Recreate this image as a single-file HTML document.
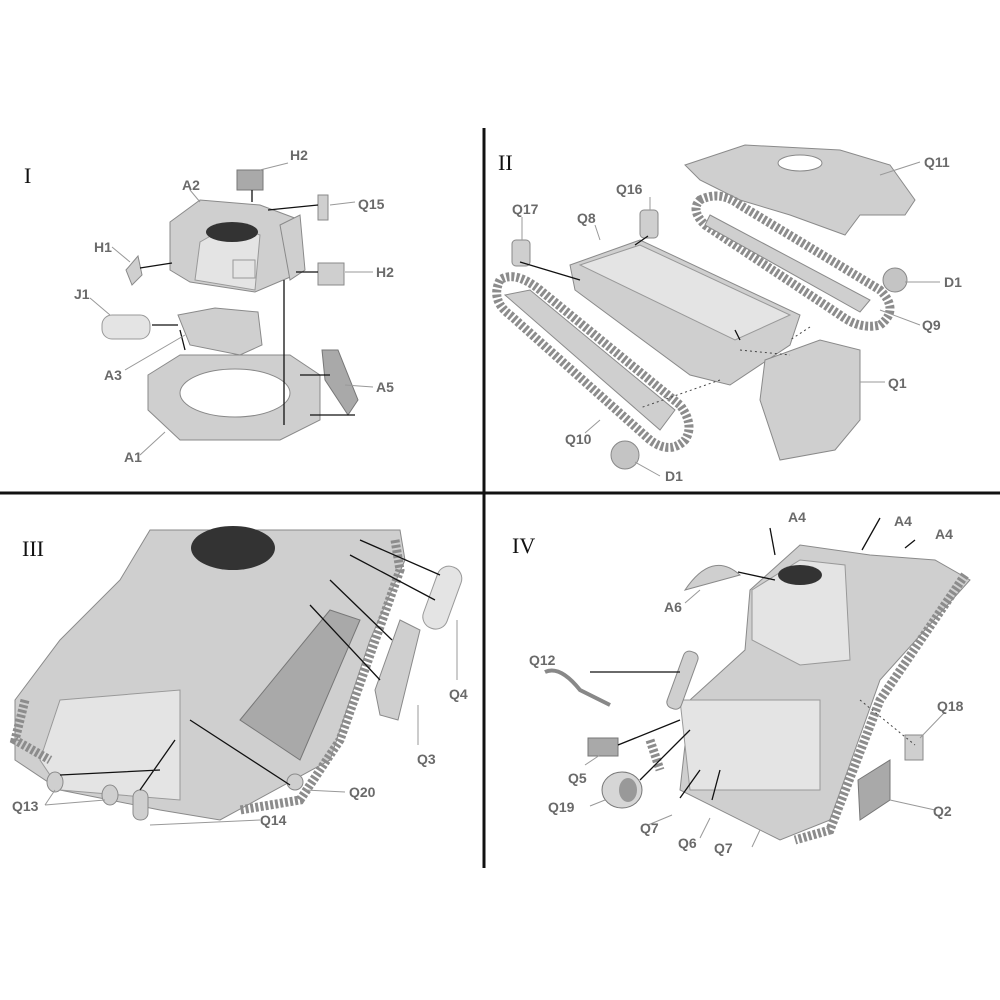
<!DOCTYPE html>
<html><head><meta charset="utf-8"><style>
html,body{margin:0;padding:0;background:#fff}
svg{display:block}
.l{font-family:"Liberation Sans",sans-serif;font-weight:bold;font-size:14px;fill:#6a6a6a}
.r{font-family:"Liberation Serif",serif;font-size:22px;fill:#111}
.p{fill:#cfcfcf;stroke:#8a8a8a;stroke-width:1}
.d{fill:#a9a9a9;stroke:#777;stroke-width:1}
.w{fill:#e4e4e4;stroke:#999;stroke-width:1}
.k{stroke:#111;stroke-width:1.3;fill:none}
.g{stroke:#999;stroke-width:1;fill:none}
.t{fill:none;stroke:#8c8c8c;stroke-width:9;stroke-dasharray:3 2}
</style></head><body>
<svg width="1000" height="1000" viewBox="0 0 1000 1000" xmlns="http://www.w3.org/2000/svg">
<rect width="1000" height="1000" fill="#fff"/>
<line x1="0" y1="493" x2="1000" y2="493" stroke="#111" stroke-width="3"/>
<line x1="484" y1="128" x2="484" y2="868" stroke="#111" stroke-width="3"/>
<text class="r" x="24" y="183">I</text>
<text class="r" x="498" y="170">II</text>
<text class="r" x="22" y="556">III</text>
<text class="r" x="512" y="553">IV</text>

<!-- Panel I -->
<rect class="d" x="237" y="170" width="26" height="20"/>
<polygon class="p" points="170,222 200,200 260,205 300,220 295,275 255,292 190,282 170,270"/>
<polygon class="w" points="200,242 230,225 260,235 255,290 195,280"/>
<ellipse cx="232" cy="232" rx="26" ry="10" fill="#333"/>
<rect class="w" x="233" y="260" width="22" height="18"/>
<polygon class="p" points="280,225 300,215 305,270 290,280"/>
<rect class="p" x="318" y="195" width="10" height="25"/>
<rect class="p" x="318" y="263" width="26" height="22"/>
<polygon class="p" points="126,270 138,256 142,275 132,285"/>
<rect class="w" x="102" y="315" width="48" height="24" rx="10"/>
<polygon class="p" points="178,315 215,308 258,312 262,345 240,355 190,345"/>
<polygon class="p" points="148,375 180,355 290,355 320,375 320,420 280,440 180,440 148,410"/>
<ellipse cx="235" cy="393" rx="55" ry="24" fill="#fff" stroke="#888"/>
<polygon class="d" points="322,350 338,350 358,400 348,415 325,380"/>
<path class="k" d="M252 190 L252 202 M268 210 L318 205 M140 268 L172 263 M152 325 L178 325 M180 330 L185 350 M296 272 L318 272 M284 280 L284 425 M300 375 L330 375 M310 415 L355 415"/>
<path class="g" d="M288 163 L260 170 M355 202 L330 205 M373 272 L345 272 M190 190 L200 202 M112 247 L130 262 M90 298 L110 315 M125 370 L185 335 M373 387 L345 385 M140 455 L165 432"/>
<text class="l" x="290" y="160">H2</text>
<text class="l" x="182" y="190">A2</text>
<text class="l" x="358" y="209">Q15</text>
<text class="l" x="94" y="252">H1</text>
<text class="l" x="376" y="277">H2</text>
<text class="l" x="74" y="299">J1</text>
<text class="l" x="104" y="380">A3</text>
<text class="l" x="376" y="392">A5</text>
<text class="l" x="124" y="462">A1</text>

<!-- Panel II -->
<polygon class="p" points="685,165 745,145 840,150 890,165 915,200 905,215 860,215 845,235 790,215 740,200 700,180"/>
<ellipse cx="800" cy="163" rx="22" ry="8" fill="#fff" stroke="#888"/>
<path class="t" d="M700 200 Q720 190 740 205 L880 290 Q900 310 880 325 Q860 330 840 315 L705 225 Q690 210 700 200Z"/>
<polygon class="p" points="710,215 870,300 860,312 705,225"/>
<polygon class="p" points="570,265 640,240 800,315 790,345 730,385 690,375 575,290"/>
<polygon class="w" points="580,265 640,245 790,315 735,340"/>
<path class="t" d="M500 280 Q490 300 510 315 L650 440 Q670 455 685 440 Q695 425 680 405 L540 290 Q515 270 500 280Z"/>
<polygon class="p" points="505,295 530,290 675,410 660,430"/>
<rect class="p" x="512" y="240" width="18" height="26" rx="4"/>
<rect class="p" x="640" y="210" width="18" height="28" rx="4"/>
<polygon class="p" points="765,360 820,340 860,350 860,420 835,450 780,460 760,400"/>
<ellipse cx="895" cy="280" rx="12" ry="12" fill="#c4c4c4" stroke="#888"/>
<ellipse cx="625" cy="455" rx="14" ry="14" fill="#c4c4c4" stroke="#888"/>
<path class="k" d="M520 262 L580 280 M648 236 L635 245 M735 330 L740 340"/>
<path class="g" d="M522 217 L522 240 M650 197 L650 210 M595 225 L600 240 M920 162 L880 175 M940 282 L905 282 M920 325 L880 310 M885 382 L860 382 M585 433 L600 420 M660 476 L635 462" />
<path d="M720 380 L640 408 M810 327 L790 340 M740 350 L790 355" stroke="#444" stroke-dasharray="2 3" fill="none"/>
<text class="l" x="512" y="214">Q17</text>
<text class="l" x="616" y="194">Q16</text>
<text class="l" x="577" y="223">Q8</text>
<text class="l" x="924" y="167">Q11</text>
<text class="l" x="944" y="287">D1</text>
<text class="l" x="922" y="330">Q9</text>
<text class="l" x="888" y="388">Q1</text>
<text class="l" x="565" y="444">Q10</text>
<text class="l" x="665" y="481">D1</text>

<!-- Panel III -->
<polygon class="p" points="150,530 400,530 405,560 370,640 330,760 220,820 160,810 60,790 15,760 15,700 60,640 120,580"/>
<ellipse cx="233" cy="548" rx="42" ry="22" fill="#333"/>
<polygon class="w" points="60,700 180,690 180,800 60,790 40,760"/>
<path class="t" d="M395 540 L400 570 L340 740 L300 800 L240 810 M25 700 L15 740 L50 760"/>
<polygon class="d" points="240,720 330,610 360,620 300,760"/>
<rect class="w" x="430" y="565" width="25" height="65" rx="12" transform="rotate(20 442 597)"/>
<polygon class="p" points="375,690 400,620 420,630 398,720 380,715"/>
<ellipse cx="55" cy="782" rx="8" ry="10" class="p"/>
<ellipse cx="110" cy="795" rx="8" ry="10" class="p"/>
<rect class="p" x="133" y="790" width="15" height="30" rx="7"/>
<ellipse cx="295" cy="782" rx="8" ry="8" class="p"/>
<path class="k" d="M360 540 L440 575 M350 555 L435 600 M330 580 L392 640 M310 605 L380 680 M190 720 L290 785 M175 740 L140 790 M160 770 L60 775"/>
<path class="g" d="M457 620 L457 680 M418 705 L418 745 M345 792 L305 790 M260 820 L150 825 M45 805 L55 790 M45 805 L105 800"/>
<text class="l" x="449" y="699">Q4</text>
<text class="l" x="417" y="764">Q3</text>
<text class="l" x="349" y="797">Q20</text>
<text class="l" x="12" y="811">Q13</text>
<text class="l" x="260" y="825">Q14</text>

<!-- Panel IV -->
<path class="p" d="M685 590 Q712 550 740 575 Z"/>
<polygon class="p" points="750,590 800,545 870,555 935,560 970,580 880,680 830,820 780,840 680,790 690,700 745,650"/>
<polygon class="w" points="752,590 800,560 845,565 850,660 800,665 752,640"/>
<ellipse cx="800" cy="575" rx="22" ry="10" fill="#333"/>
<polygon class="w" points="680,700 820,700 820,790 690,790"/>
<path class="t" d="M965 575 L880 700 L830 830 L795 840 M650 740 L660 770"/>
<rect class="p" x="675" y="650" width="15" height="60" rx="6" transform="rotate(20 682 680)"/>
<path d="M545 672 Q560 665 580 690 L610 705" stroke="#888" stroke-width="4" fill="none"/>
<rect class="d" x="588" y="738" width="30" height="18"/>
<ellipse cx="622" cy="790" rx="20" ry="18" fill="#d6d6d6" stroke="#777"/>
<ellipse cx="628" cy="790" rx="9" ry="12" fill="#999"/>
<polygon class="d" points="858,780 890,760 890,800 860,820"/>
<rect class="p" x="905" y="735" width="18" height="25"/>
<path class="k" d="M738 572 L775 580 M590 672 L680 672 M618 745 L680 720 M640 780 L690 730 M770 528 L775 555 M880 518 L862 550 M915 540 L905 548 M680 798 L700 770 M712 800 L720 770"/>
<path d="M860 700 L915 745" stroke="#444" stroke-dasharray="2 3" fill="none"/>
<path class="g" d="M685 603 L700 590 M585 765 L600 755 M590 806 L605 800 M648 825 L672 815 M700 838 L710 818 M752 847 L760 830 M935 810 L890 800 M945 712 L920 738"/>
<text class="l" x="788" y="522">A4</text>
<text class="l" x="894" y="526">A4</text>
<text class="l" x="935" y="539">A4</text>
<text class="l" x="664" y="612">A6</text>
<text class="l" x="529" y="665">Q12</text>
<text class="l" x="937" y="711">Q18</text>
<text class="l" x="568" y="783">Q5</text>
<text class="l" x="548" y="812">Q19</text>
<text class="l" x="640" y="833">Q7</text>
<text class="l" x="678" y="848">Q6</text>
<text class="l" x="714" y="853">Q7</text>
<text class="l" x="933" y="816">Q2</text>
</svg>
</body></html>
